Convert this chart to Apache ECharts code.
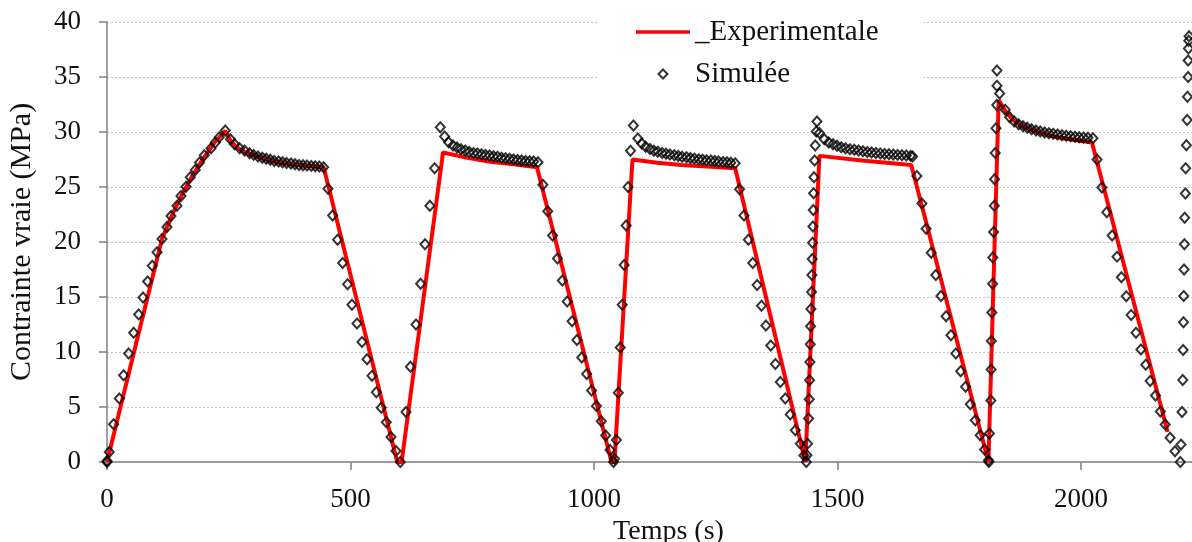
<!DOCTYPE html>
<html>
<head>
<meta charset="utf-8">
<script src="https://cdn.jsdelivr.net/npm/echarts@6/dist/echarts.min.js"></script>
<style>
html,body{margin:0;padding:0;background:#fff;}
#chart{width:1192px;height:542px;}
</style>
</head>
<body>
<div id="chart"></div>
<script>
// ---- Data (time s, true stress MPa) ----
const xTicks = [0, 500, 1000, 1500, 2000];
const yTicks = [0, 5, 10, 15, 20, 25, 30, 35, 40];

const expCycle1 = [[0,0],[56,10.1],[113,20.3],[135,22.6],[154,24.3],[175,26.0],[198,27.6],[220,29.0],[243,30.1],[253,29.25],[262,28.8],[272,28.45],[283,28.2],[300,27.9],[320,27.6],[345,27.3],[370,27.1],[400,26.98],[425,26.88],[445,26.78],[596,0]];
const expCycle2 = [[605,0],[690,28.13],[740,27.65],[787,27.3],[840,27.05],[883,26.8],[1036,0]];
const expCycle3 = [[1042,0],[1079,27.5],[1130,27.2],[1180,27.0],[1240,26.85],[1290,26.7],[1434,0]];
const expCycle4 = [[1437,0],[1463,27.83],[1550,27.4],[1651.5,27.0],[1810,0]];
const expCycle5 = [[1813,0],[1831,32.9],[1845,31.9],[1860,31.1],[1880,30.5],[1910,30.0],[1950,29.55],[1990,29.25],[2022.6,29.04],[2178,2.73]];

const simCycle1 = [[0,0],[0,0.09],[4.7,0.91],[13.6,3.43],[25.3,5.77],[34.1,7.89],[44.4,9.87],[54.7,11.74],[64.9,13.42],[73.9,14.96],[83.4,16.42],[93,17.84],[102.7,19.06],[112.9,20.27],[123.2,21.37],[131.4,22.37],[143.7,23.3],[151.9,24.19],[162.2,25.03],[171,25.89],[181.3,26.55],[190.1,27.22],[199.8,27.89],[213.6,28.53],[222.4,29.04],[230.6,29.53],[242.9,30.13],
 [253.5,29.35],[262,28.89],[272.3,28.53],[282.5,28.31],[292.8,28.07],[301,27.92],[310,27.77],[319,27.65],[327,27.56],[335.3,27.47],[343.5,27.37],[352.4,27.31],[360.6,27.25],[368.8,27.19],[377.8,27.13],[386,27.07],[394.3,27.01],[402.5,26.98],[410.7,26.95],[419.5,26.92],[427.7,26.89],[436,26.86],[444.8,26.8],
 [453.8,24.83],[463.3,22.4],[473.5,20.2],[483.8,18.1],[494,16.15],[503,14.3],[513.3,12.58],[523.6,10.9],[533.9,9.34],[544.1,7.83],[553,6.35],[563.2,4.93],[573.5,3.61],[583.2,2.27],[593.4,1.01],[602.3,0]];
const simCycle2 = [[614,4.55],[623,8.65],[634.5,12.5],[644,16.2],[653,19.8],[663,23.3],[672.7,26.7],[684.4,30.44],
 [693.3,29.59],[701.5,29.07],[710.5,28.77],[718.7,28.59],[726.9,28.44],[735.7,28.31],[744,28.19],[752.8,28.1],[761,28.04],[769.2,27.98],[777.4,27.92],[785.6,27.86],[793.8,27.8],[802,27.74],[810.3,27.67],[818.5,27.62],[826.7,27.56],[834.9,27.49],[843.1,27.46],[851.3,27.4],[859.5,27.37],[867.8,27.35],[876,27.31],[885,27.25],
 [895,25.2],[905,22.8],[915,20.6],[925,18.5],[935,16.5],[945,14.6],[955,12.8],[965,11.1],[975,9.5],[985,8.0],[995,6.5],[1005,5.1],[1015,3.7],[1024,2.4],[1033,1.1],[1040,0]];
const simCycle3 = [[1042,0.3],[1046,2.0],[1050,6.3],[1054,10.4],[1058,14.3],[1062,17.9],[1066,21.5],[1070,25.0],[1075,28.3],[1081,30.6],
 [1090,29.4],[1098,28.95],[1106,28.65],[1115,28.45],[1123,28.3],[1131,28.2],[1140,28.1],[1148,28.02],[1156,27.95],[1165,27.88],[1173,27.82],[1181,27.76],[1190,27.7],[1198,27.64],[1206,27.58],[1215,27.53],[1223,27.48],[1231,27.44],[1240,27.4],[1248,27.36],[1256,27.32],[1265,27.28],[1273,27.24],[1281,27.2],[1290,27.15],
 [1299,24.8],[1308,22.4],[1317,20.2],[1326,18.1],[1335,16.1],[1344,14.2],[1353,12.4],[1363,10.6],[1372.5,8.9],[1382.6,7.28],[1392.8,5.77],[1403,4.31],[1413.4,2.89],[1423.6,1.67],[1431,0.6],[1436,0]];
const simCycle4 = [[1437.4,0.61],[1438.6,1.67],[1440.7,3.95],[1442,5.71],[1442.7,7.44],[1443.4,9.1],[1444.1,10.71],[1444.8,12.35],[1445.5,13.9],[1446.8,15.45],[1447.5,17.0],[1448.2,18.45],[1448.9,19.94],[1449.6,21.4],[1450.3,22.9],[1451,24.43],[1451.7,25.89],[1453,27.4],[1454.4,28.77],[1456.5,30.04],[1457.9,30.95],
 [1463,29.9],[1473,29.35],[1482,29.04],[1490.8,28.89],[1499,28.74],[1507.8,28.62],[1516.6,28.53],[1525.6,28.44],[1534.5,28.38],[1543.3,28.31],[1552.3,28.26],[1561.2,28.19],[1570,28.13],[1579,28.1],[1587.9,28.04],[1596.7,28.01],[1605.7,27.98],[1614.6,27.95],[1623.4,27.92],[1632.4,27.89],[1641.3,27.86],[1650.1,27.83],[1654.2,27.77],
 [1663,26.0],[1673.5,23.5],[1682,21.2],[1692.5,19.03],[1702,17.0],[1712.5,15.1],[1723,13.26],[1733,11.53],[1743,9.87],[1753,8.26],[1763,6.83],[1772.7,5.25],[1783,3.8],[1793,2.43],[1802,1.13],[1810,0.15],[1811,0]];
const simCycle5 = [[1812,2.6],[1815,5.6],[1815.5,8.4],[1816,11.0],[1817,13.6],[1818.6,16.2],[1819,18.6],[1820.6,20.9],[1822,23.3],[1822.6,25.7],[1824,28.1],[1825.5,30.35],[1827,32.45],[1827.5,34.2],[1827.5,35.6],[1833,33.5],
 [1844.5,32.02],[1853.5,31.35],[1863,30.95],[1872,30.71],[1881,30.53],[1889.8,30.38],[1898.6,30.26],[1907.6,30.13],[1916.4,30.04],[1925.3,29.95],[1934.3,29.89],[1943,29.83],[1952,29.77],[1961,29.71],[1969.8,29.65],[1978.7,29.62],[1987.7,29.56],[1996.5,29.53],[2005.3,29.5],[2014.4,29.47],[2024.6,29.44],
 [2033,27.5],[2043,24.96],[2053,22.7],[2064,20.6],[2074,18.67],[2083,16.8],[2093,15.06],[2103,13.36],[2113,11.76],[2123,10.22],[2133,8.84],[2142,7.36],[2153,6.04],[2163,4.6],[2173,3.4],[2183,2.2],[2193,0.97],[2204,0],
 [2205.4,1.58],[2207.5,4.55],[2209,7.45],[2209.8,10.19],[2210.5,12.7],[2211,15.1],[2211.7,17.5],[2212.4,19.8],[2213,22.2],[2214.4,24.4],[2215,26.7],[2216.5,28.8],[2218,31.1],[2218.7,33.2],[2220,35.0],[2220,36.5],[2220.7,37.6],[2221.4,38.3],[2222,38.7]];

const expData = [].concat(expCycle1, expCycle2, expCycle3, expCycle4, expCycle5);
const simData = [].concat(simCycle1, simCycle2, simCycle3, simCycle4, simCycle5);

const FONT = 'Liberation Serif';
const TXT = '#111';
const chart = echarts.init(document.getElementById('chart'), null, {renderer: 'canvas'});
chart.setOption({
  animation: false,
  backgroundColor: '#fff',
  grid: {left: 107, right: 0, top: 22, bottom: 80, containLabel: false, outerBoundsMode: 'none'},
  legend: {
    orient: 'vertical', left: 597, top: 0,
    backgroundColor: '#fff',
    padding: [17, 45, 11, 39],
    itemWidth: 54, itemHeight: 9, itemGap: 12,
    textStyle: {fontFamily: FONT, fontSize: 29, color: TXT, lineHeight: 30},
    data: [
      {name: '_Experimentale', icon: 'path://M0,0H54V3.5H0Z', itemStyle: {color: '#ff0000', borderWidth: 0}},
      {name: 'Simulée', icon: 'path://M5,0L10,5L5,10L0,5Z', itemStyle: {color: '#fff', borderColor: '#000', borderWidth: 2}}
    ]
  },
  xAxis: {
    type: 'value', min: 0, max: 2228,
    name: 'Temps (s)', nameLocation: 'middle', nameGap: 49,
    nameTextStyle: {fontFamily: FONT, fontSize: 28, color: TXT, padding: [0, 0, 0, 38]},
    axisLine: {lineStyle: {color: '#808080', width: 1.5}},
    axisTick: {show: true, length: 8, lineStyle: {color: '#808080', width: 1.5}, customValues: xTicks},
    axisLabel: {fontFamily: FONT, fontSize: 27, color: TXT, margin: 24, customValues: xTicks,
      formatter: function (v) { return String(v); }},
    splitLine: {show: false}
  },
  yAxis: {
    type: 'value', min: 0, max: 40, interval: 5,
    name: 'Contrainte vraie (MPa)', nameLocation: 'middle', nameGap: 70,
    nameTextStyle: {fontFamily: FONT, fontSize: 30, color: TXT},
    axisLine: {show: true, lineStyle: {color: '#808080', width: 1.5}},
    axisTick: {show: true, length: 8, lineStyle: {color: '#808080', width: 1.5}},
    axisLabel: {fontFamily: FONT, fontSize: 27, color: TXT, margin: 26, align: 'right', verticalAlign: 'middle',
      formatter: function (v) { return String(v); }},
    splitLine: {show: true, lineStyle: {color: '#c4c4c4', width: 1, type: [2, 2]}}
  },
  series: [
    {
      name: '_Experimentale', type: 'line', data: expData,
      symbol: 'none', showSymbol: false, z: 2,
      lineStyle: {color: '#ff0000', width: 4},
      itemStyle: {color: '#ff0000'}
    },
    {
      name: 'Simulée', type: 'scatter', data: simData, clip: false,
      symbol: 'diamond', symbolSize: [9, 10], z: 3,
      itemStyle: {color: 'rgba(255,255,255,0)', borderColor: '#000', borderWidth: 2}
    }
  ]
});
</script>
</body>
</html>
